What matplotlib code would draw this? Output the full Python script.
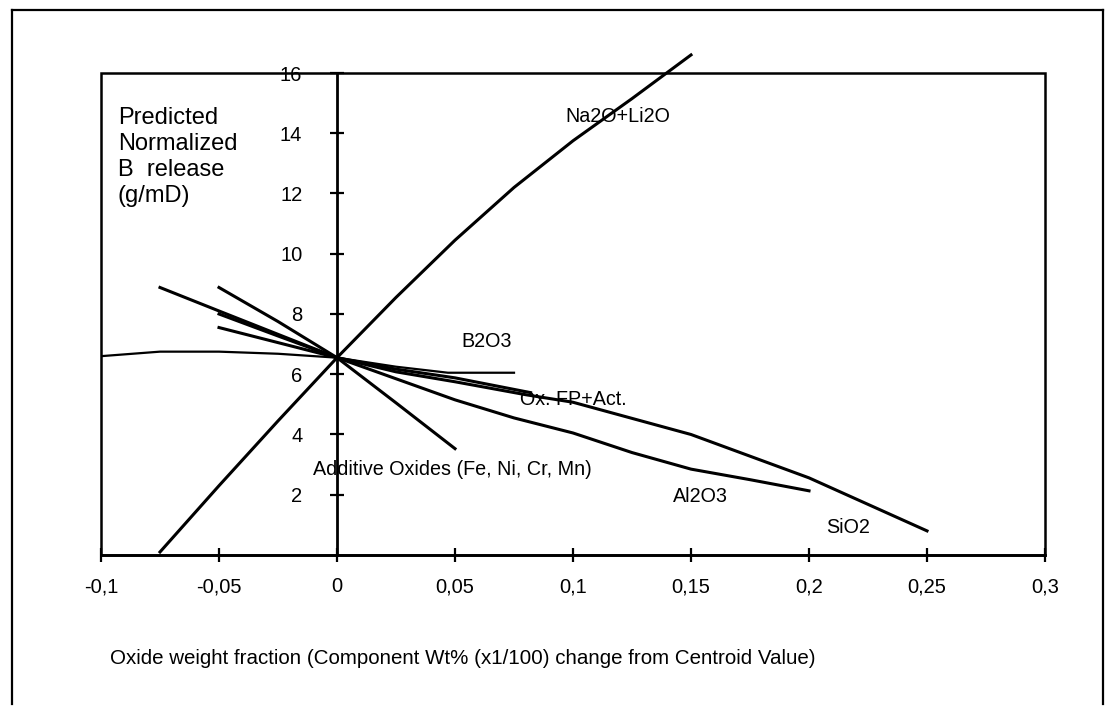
import matplotlib
matplotlib.use('Agg')
import matplotlib.pyplot as plt
from matplotlib.lines import Line2D

plt.rcParams['font.family'] = ['Liberation Sans', 'DejaVu Sans']

# Predicted normalized B release vs oxide weight fraction change
na2o_x = [-0.075, -0.05, -0.025, 0, 0.025, 0.05, 0.075, 0.1, 0.125, 0.15]
na2o_y = [0.1, 2.3, 4.45, 6.55, 8.55, 10.45, 12.2, 13.75, 15.15, 16.6]

b2o3_x = [-0.1, -0.075, -0.05, -0.025, 0, 0.025, 0.047, 0.075]
b2o3_y = [6.6, 6.75, 6.75, 6.68, 6.55, 6.25, 6.05, 6.05]

sio2_x = [-0.075, -0.05, 0, 0.025, 0.05, 0.08, 0.1, 0.15, 0.2, 0.25]
sio2_y = [8.88, 8.1, 6.55, 6.08, 5.75, 5.32, 5.07, 4.0, 2.56, 0.8]

oxfp_x = [-0.05, -0.025, 0, 0.025, 0.05, 0.082]
oxfp_y = [8.0, 7.27, 6.55, 6.17, 5.88, 5.39]

al2o3_x = [-0.05, -0.025, 0, 0.025, 0.05, 0.075, 0.1, 0.125, 0.15, 0.175, 0.2]
al2o3_y = [7.55, 7.05, 6.55, 5.85, 5.15, 4.55, 4.05, 3.4, 2.85, 2.5, 2.13]

addox_x = [-0.05, -0.025, 0, 0.025, 0.05]
addox_y = [8.88, 7.75, 6.55, 5.05, 3.53]

xticks = [-0.1, -0.05, 0, 0.05, 0.1, 0.15, 0.2, 0.25, 0.3]
xtick_labels = ['-0,1', '-0,05', '0', '0,05', '0,1', '0,15', '0,2', '0,25', '0,3']
yticks = [2, 4, 6, 8, 10, 12, 14, 16]

fig = plt.figure(figsize=(11.16, 7.06), dpi=100)
ax = fig.add_axes([0.0905, 0.2139, 0.8459, 0.6827])

lw = 2.2
ax.plot(na2o_x, na2o_y, color='black', lw=lw, clip_on=False)
ax.plot(b2o3_x, b2o3_y, color='black', lw=1.6)
ax.plot(sio2_x, sio2_y, color='black', lw=lw)
ax.plot(oxfp_x, oxfp_y, color='black', lw=lw)
ax.plot(al2o3_x, al2o3_y, color='black', lw=lw)
ax.plot(addox_x, addox_y, color='black', lw=lw)

lab_fs = 14.2
ax.text(0.119, 14.54, 'Na2O+Li2O', fontsize=lab_fs, ha='center', va='center')
ax.text(0.0636, 7.09, 'B2O3', fontsize=lab_fs, ha='center', va='center')
ax.text(0.1, 5.16, 'Ox. FP+Act.', fontsize=lab_fs, ha='center', va='center')
ax.text(0.049, 2.83, 'Additive Oxides (Fe, Ni, Cr, Mn)', fontsize=lab_fs, ha='center', va='center')
ax.text(0.154, 1.93, 'Al2O3', fontsize=lab_fs, ha='center', va='center')
ax.text(0.2165, 0.9, 'SiO2', fontsize=lab_fs, ha='center', va='center')

ax.set_xlim(-0.1, 0.3)
ax.set_ylim(0, 16)

# box around plot area, y axis drawn through x = 0
ax.patch.set_edgecolor('black')
ax.patch.set_linewidth(1.8)
for s in ['top', 'right']:
    ax.spines[s].set_visible(False)
ax.spines['left'].set_position(('data', 0))
ax.spines['left'].set_linewidth(2)
ax.spines['bottom'].set_linewidth(2)

ax.set_xticks(xticks)
ax.set_xticklabels(xtick_labels)
ax.set_yticks(yticks)
ax.tick_params(axis='x', direction='inout', length=10, width=1.6, labelsize=14.5, pad=11)
ax.tick_params(axis='y', direction='inout', length=10, width=1.6, labelsize=14.5, pad=20)

ax.text(0.018, 0.93, 'Predicted\nNormalized\nB  release\n(g/mD)', transform=ax.transAxes,
        fontsize=17, ha='left', va='top', linespacing=1.25)

fig.text(110 / 1116, 1 - 658 / 706, 'Oxide weight fraction (Component Wt% (x1/100) change from Centroid Value)',
         fontsize=14.8, ha='left', va='center')

# outer frame
x0, x1, y0, y1 = 12 / 1116, 1103 / 1116, 1 - 10 / 706, 1 - 704 / 706
fig.add_artist(Line2D([x0, x1], [y0, y0], color='black', lw=1.6, transform=fig.transFigure))
fig.add_artist(Line2D([x0, x0], [y0, y1], color='black', lw=1.6, transform=fig.transFigure))
fig.add_artist(Line2D([x1, x1], [y0, y1], color='black', lw=1.6, transform=fig.transFigure))

fig.savefig('out.png', dpi=100)
